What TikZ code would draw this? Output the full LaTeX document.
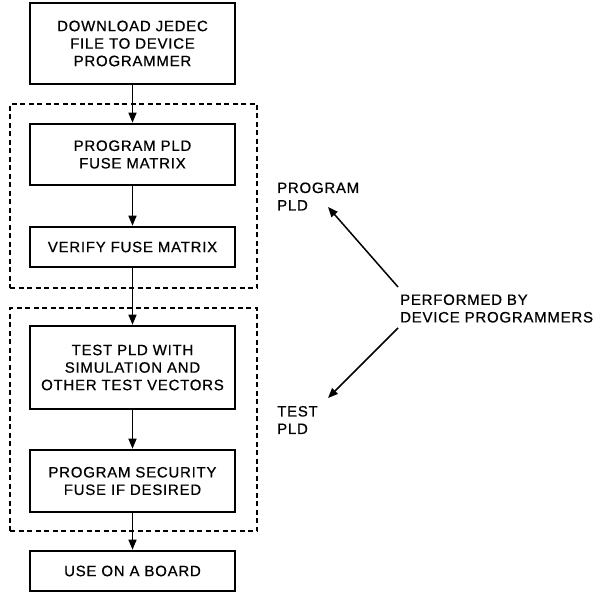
\documentclass[tikz,border=0pt]{standalone}
\usepackage{fontspec}
\setmainfont{Liberation Sans}[LetterSpace=5, FakeBold=0.6]
\usetikzlibrary{arrows.meta}
\tikzset{
  pldbox/.style={draw, line width=2.6pt, minimum width=205pt, inner sep=0pt, align=center, font=\fontsize{15}{17.5}\selectfont},
  pldframe/.style={draw, line width=1.6pt, dash pattern=on 5pt off 3.5pt, inner sep=0pt},
  pldarrow/.style={-{Triangle[length=10pt,width=8pt]}, line width=1.5pt},
  pldnote/.style={anchor=west, inner sep=0pt, align=left, font=\fontsize{15}{17.5}\selectfont},
}

\begin{document}
\begin{tikzpicture}[x=1pt, y=-1pt]
  \useasboundingbox (0,0) rectangle (596,593);
  % dashed groups
  \node[pldframe, minimum width=247pt, minimum height=184pt] (progframe) at (133.5,196) {};
  \node[pldframe, minimum width=247pt, minimum height=223pt] (testframe) at (133.5,419.5) {};

  % flow steps
  \node[pldbox, minimum height=81pt] (download) at (132.5,43.5) {DOWNLOAD JEDEC\\FILE TO DEVICE\\PROGRAMMER};
  \node[pldbox, minimum height=61pt] (program) at (132.5,154.5) {PROGRAM PLD\\FUSE MATRIX};
  \node[pldbox, minimum height=40pt] (verify) at (132.5,247) {VERIFY FUSE MATRIX};
  \node[pldbox, minimum height=83pt] (test) at (132.5,367.5) {TEST PLD WITH\\SIMULATION AND\\OTHER TEST VECTORS};
  \node[pldbox, minimum height=62pt] (security) at (132.5,481) {PROGRAM SECURITY\\FUSE IF DESIRED};
  \node[pldbox, minimum height=40pt] (board) at (132.5,571) {USE ON A BOARD};

  \draw[pldarrow] (download) -- (program);
  \draw[pldarrow] (program) -- (verify);
  \draw[pldarrow] (verify) -- (test);
  \draw[pldarrow] (test) -- (security);
  \draw[pldarrow] (security) -- (board);

  % side notes
  \node[pldnote] (progpld) at (277,196.5) {PROGRAM\\PLD};
  \node[pldnote] (testpld) at (277,420) {TEST\\PLD};
  \node[pldnote] (performed) at (400,308.5) {PERFORMED BY\\DEVICE PROGRAMMERS};

  \coordinate (perfup) at (398,287);
  \coordinate (perfdown) at (398,328);
  \coordinate (progtip) at (328,207);
  \coordinate (testtip) at (328,398);
  \draw[pldarrow] (perfup) -- (progtip);
  \draw[pldarrow] (perfdown) -- (testtip);
\end{tikzpicture}
\end{document}
